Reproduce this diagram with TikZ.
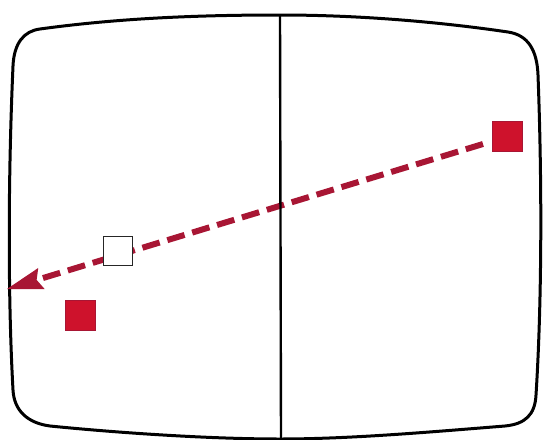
\documentclass[tikz,border=0pt]{standalone}
\usetikzlibrary{arrows.meta}
\definecolor{sqred}{RGB}{206,18,44}
\definecolor{dashred}{RGB}{168,22,52}
\tikzset{
  outline/.style={line width=3pt, black, line join=round},
  divider/.style={line width=2.4pt, black},
  redsq/.style={draw=dashred, fill=sqred, line width=1pt, minimum size=30pt, inner sep=0pt},
  hollowsq/.style={draw=black!85, fill=white, line width=1.6pt, minimum size=29pt, inner sep=0pt},
  dasharrow/.style={dashred, line width=6pt, dash pattern=on 18pt off 8pt,
    -{Stealth[length=36pt,width=22pt,inset=5pt,line width=0pt]}}
}
\begin{document}
\begin{tikzpicture}[x=1pt,y=-1pt]
\useasboundingbox (0,0) rectangle (546,439);
% screen outline
\draw[outline] (40,29) .. controls (120,18) and (200,15) .. (280,15)
  .. controls (360,15) and (440,22) .. (508,32)
  .. controls (528,35) and (537,50) .. (538,75)
  .. controls (542,180) and (542,300) .. (536,395)
  .. controls (535,415) and (525,424) .. (505,426)
  .. controls (430,432) and (350,439) .. (280,439)
  .. controls (210,439) and (120,433) .. (50,426)
  .. controls (27,423) and (14,410) .. (13,390)
  .. controls (8,300) and (8,180) .. (13,66)
  .. controls (14,43) and (24,31) .. (40,29) -- cycle;
% points
\coordinate (start) at (483,144);
\coordinate (tip) at (7,289);
\coordinate (divtop) at (280,15);
\coordinate (divbot) at (281,439);
\draw[dasharrow] (start) -- (tip);
\node[hollowsq] (hollow) at (118,251) {};
\node[redsq] (target) at (507,136) {};
\node[redsq] (lower) at (80,315) {};
\draw[divider] (divtop) -- (divbot);
\end{tikzpicture}
\end{document}
